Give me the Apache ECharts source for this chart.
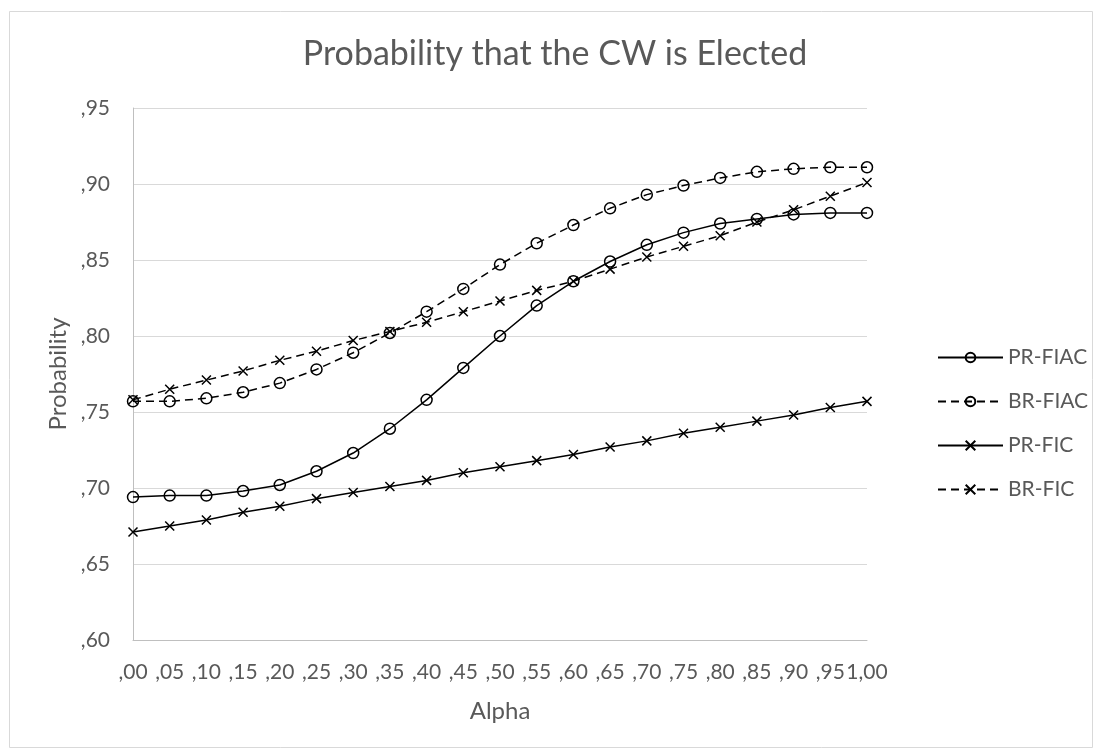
<!DOCTYPE html>
<html>
<head>
<meta charset="utf-8">
<script src="https://cdn.jsdelivr.net/npm/echarts@6/dist/echarts.min.js"></script>
<style>
html,body{margin:0;padding:0;background:#fff;}
#chart{width:1097px;height:753px;}
</style>
</head>
<body>
<div id="chart"></div>
<script>
const alphaLabels = [",00",",05",",10",",15",",20",",25",",30",",35",",40",",45",",50",",55",",60",",65",",70",",75",",80",",85",",90",",95","1,00"];
const prFIAC = [0.694,0.695,0.695,0.698,0.702,0.711,0.723,0.739,0.758,0.779,0.800,0.820,0.836,0.849,0.860,0.868,0.874,0.877,0.880,0.881,0.881];
const brFIAC = [0.757,0.757,0.759,0.763,0.769,0.778,0.789,0.802,0.816,0.831,0.847,0.861,0.873,0.884,0.893,0.899,0.904,0.908,0.910,0.911,0.911];
const prFIC  = [0.671,0.675,0.679,0.684,0.688,0.693,0.697,0.701,0.705,0.710,0.714,0.718,0.722,0.727,0.731,0.736,0.740,0.744,0.748,0.753,0.757];
const brFIC  = [0.758,0.765,0.771,0.777,0.784,0.790,0.797,0.803,0.809,0.816,0.823,0.830,0.836,0.844,0.852,0.859,0.866,0.875,0.883,0.892,0.901];
const seriesNames = ["PR-FIAC","BR-FIAC","PR-FIC","BR-FIC"];

const FONT = 'Lato';
const GRAY = '#595959';
const CROSS = 'path://M0,0L10,10M10,0L0,10';

function mk(name, data, dashed, cross) {
  return {
    name: name,
    type: 'line',
    data: data,
    symbol: cross ? CROSS : 'circle',
    symbolSize: cross ? 9 : 11,
    showAllSymbol: true,
    lineStyle: { color: '#000', width: 1.5, type: dashed ? [8, 5] : 'solid' },
    itemStyle: { color: 'transparent', borderColor: '#000', borderWidth: 1.5 },
    emphasis: { disabled: true },
    z: 3
  };
}

const chart = echarts.init(document.getElementById('chart'), null, { renderer: 'canvas' });
chart.setOption({
  animation: false,
  backgroundColor: '#fff',
  graphic: [
    {
      type: 'rect', left: 7, top: 9,
      shape: { width: 1083, height: 736 },
      style: { fill: 'none', stroke: '#d9d9d9', lineWidth: 1 }, z: -1
    },
    {
      type: 'text', x: 555, y: 54,
      style: {
        text: 'Probability that the CW is Elected',
        font: 'normal 34px Lato', fill: GRAY,
        align: 'center', verticalAlign: 'middle'
      }
    }
  ],
  grid: { left: 133, right: 230, top: 108, bottom: 113, containLabel: false },
  legend: {
    orient: 'vertical', left: 932, top: 342,
    itemWidth: 65, itemHeight: 12, itemGap: 23,
    data: seriesNames,
    textStyle: { fontFamily: FONT, fontSize: 21, color: GRAY }
  },
  xAxis: {
    type: 'category', data: alphaLabels, boundaryGap: false,
    name: 'Alpha', nameLocation: 'middle', nameGap: 59,
    nameTextStyle: { fontFamily: FONT, fontSize: 24, color: GRAY },
    axisLine: { lineStyle: { color: '#bfbfbf', width: 1 } },
    axisTick: { show: false },
    axisLabel: { fontFamily: FONT, fontSize: 21, color: GRAY, margin: 22, interval: 0 },
    splitLine: { show: false }
  },
  yAxis: {
    type: 'value', min: 0.6, max: 0.95, interval: 0.05,
    name: 'Probability', nameLocation: 'middle', nameGap: 62, nameRotate: 90,
    nameTextStyle: { fontFamily: FONT, fontSize: 24, color: GRAY },
    axisLine: { show: true, lineStyle: { color: '#bfbfbf', width: 1 } },
    axisTick: { show: false },
    axisLabel: {
      fontFamily: FONT, fontSize: 21, color: GRAY, margin: 23,
      formatter: v => v.toFixed(2).replace('0.', ',')
    },
    splitLine: { lineStyle: { color: '#d9d9d9', width: 1 } }
  },
  series: [
    mk(seriesNames[0], prFIAC, false, false),
    mk(seriesNames[1], brFIAC, true, false),
    mk(seriesNames[2], prFIC, false, true),
    mk(seriesNames[3], brFIC, true, true)
  ]
});
</script>
</body>
</html>
